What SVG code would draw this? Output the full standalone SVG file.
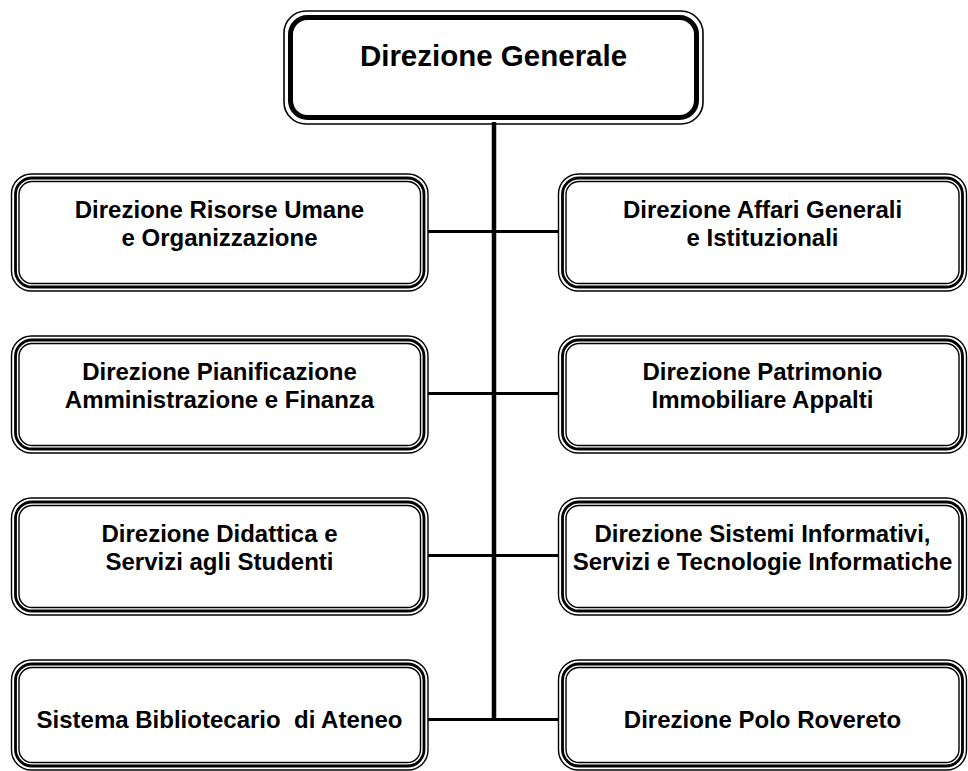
<svg xmlns="http://www.w3.org/2000/svg" width="968" height="771" viewBox="0 0 968 771">
  <style>
    .bg { fill: #ffffff; }
    .o { fill: none; stroke: #000; stroke-width: 1.4; }
    .m { fill: none; stroke: #000; stroke-width: 2.8; }
    .i { fill: #ffffff; stroke: #000; stroke-width: 1.4; }
    .to { fill: none; stroke: #000; stroke-width: 1.6; }
    .tm { fill: #ffffff; stroke: #000; stroke-width: 5; }
    .lbl { font-family: "Liberation Sans", Arial, sans-serif; font-weight: bold; font-size: 24px; fill: #000; text-anchor: middle; white-space: pre; }
    .title { font-family: "Liberation Sans", Arial, sans-serif; font-weight: bold; font-size: 29.5px; fill: #000; text-anchor: middle; }
    .trunk { stroke: #000; stroke-width: 4.5; fill: none; }
    .branch { stroke: #000; stroke-width: 3; fill: none; }
  </style>
  <rect class="bg" x="0" y="0" width="968" height="771"/>

  <!-- connectors -->
  <g id="connectors">
    <line class="trunk" x1="494" y1="122" x2="494" y2="721"/>
    <line class="branch" x1="428" y1="231.5" x2="558" y2="231.5"/>
    <line class="branch" x1="428" y1="393.5" x2="558" y2="393.5"/>
    <line class="branch" x1="428" y1="555.5" x2="558" y2="555.5"/>
    <line class="branch" x1="428" y1="719.5" x2="558" y2="719.5"/>
  </g>

  <!-- top node -->
  <g id="direzione-generale">
    <rect class="to" x="284" y="11" width="419" height="113" rx="22"/>
    <rect class="tm" x="290.5" y="17.5" width="406" height="100" rx="17"/>
    <text class="title" x="493.5" y="66">Direzione Generale</text>
  </g>

  <!-- left column -->
  <g id="risorse-umane">
    <rect class="o" x="11.5" y="174" width="416.5" height="117" rx="20"/>
    <rect class="m" x="15.5" y="178" width="408.5" height="109" rx="16.5"/>
    <rect class="i" x="19" y="181.5" width="401.5" height="102" rx="13"/>
    <text class="lbl" x="219.5" y="218">Direzione Risorse Umane</text>
    <text class="lbl" x="219.5" y="246">e Organizzazione</text>
  </g>
  <g id="pianificazione">
    <rect class="o" x="11.5" y="336" width="416.5" height="117" rx="20"/>
    <rect class="m" x="15.5" y="340" width="408.5" height="109" rx="16.5"/>
    <rect class="i" x="19" y="343.5" width="401.5" height="102" rx="13"/>
    <text class="lbl" x="219.5" y="380">Direzione Pianificazione</text>
    <text class="lbl" x="219.5" y="408">Amministrazione e Finanza</text>
  </g>
  <g id="didattica">
    <rect class="o" x="11.5" y="498" width="416.5" height="117" rx="20"/>
    <rect class="m" x="15.5" y="502" width="408.5" height="109" rx="16.5"/>
    <rect class="i" x="19" y="505.5" width="401.5" height="102" rx="13"/>
    <text class="lbl" x="219.5" y="542">Direzione Didattica e</text>
    <text class="lbl" x="219.5" y="570">Servizi agli Studenti</text>
  </g>
  <g id="bibliotecario">
    <rect class="o" x="11.5" y="660" width="416.5" height="110" rx="20"/>
    <rect class="m" x="15.5" y="664" width="408.5" height="102" rx="16.5"/>
    <rect class="i" x="19" y="667.5" width="401.5" height="95" rx="13"/>
    <text class="lbl" x="219.5" y="728">Sistema Bibliotecario  di Ateneo</text>
  </g>

  <!-- right column -->
  <g id="affari-generali">
    <rect class="o" x="558.5" y="174" width="408" height="117" rx="20"/>
    <rect class="m" x="562.5" y="178" width="400" height="109" rx="16.5"/>
    <rect class="i" x="566" y="181.5" width="393" height="102" rx="13"/>
    <text class="lbl" x="762.5" y="218">Direzione Affari Generali</text>
    <text class="lbl" x="762.5" y="246">e Istituzionali</text>
  </g>
  <g id="patrimonio">
    <rect class="o" x="558.5" y="336" width="408" height="117" rx="20"/>
    <rect class="m" x="562.5" y="340" width="400" height="109" rx="16.5"/>
    <rect class="i" x="566" y="343.5" width="393" height="102" rx="13"/>
    <text class="lbl" x="762.5" y="380">Direzione Patrimonio</text>
    <text class="lbl" x="762.5" y="408">Immobiliare Appalti</text>
  </g>
  <g id="sistemi-informativi">
    <rect class="o" x="558.5" y="498" width="408" height="117" rx="20"/>
    <rect class="m" x="562.5" y="502" width="400" height="109" rx="16.5"/>
    <rect class="i" x="566" y="505.5" width="393" height="102" rx="13"/>
    <text class="lbl" x="762.5" y="542">Direzione Sistemi Informativi,</text>
    <text class="lbl" x="762.5" y="570">Servizi e Tecnologie Informatiche</text>
  </g>
  <g id="polo-rovereto">
    <rect class="o" x="558.5" y="660" width="408" height="110" rx="20"/>
    <rect class="m" x="562.5" y="664" width="400" height="102" rx="16.5"/>
    <rect class="i" x="566" y="667.5" width="393" height="95" rx="13"/>
    <text class="lbl" x="762.5" y="728">Direzione Polo Rovereto</text>
  </g>
</svg>
